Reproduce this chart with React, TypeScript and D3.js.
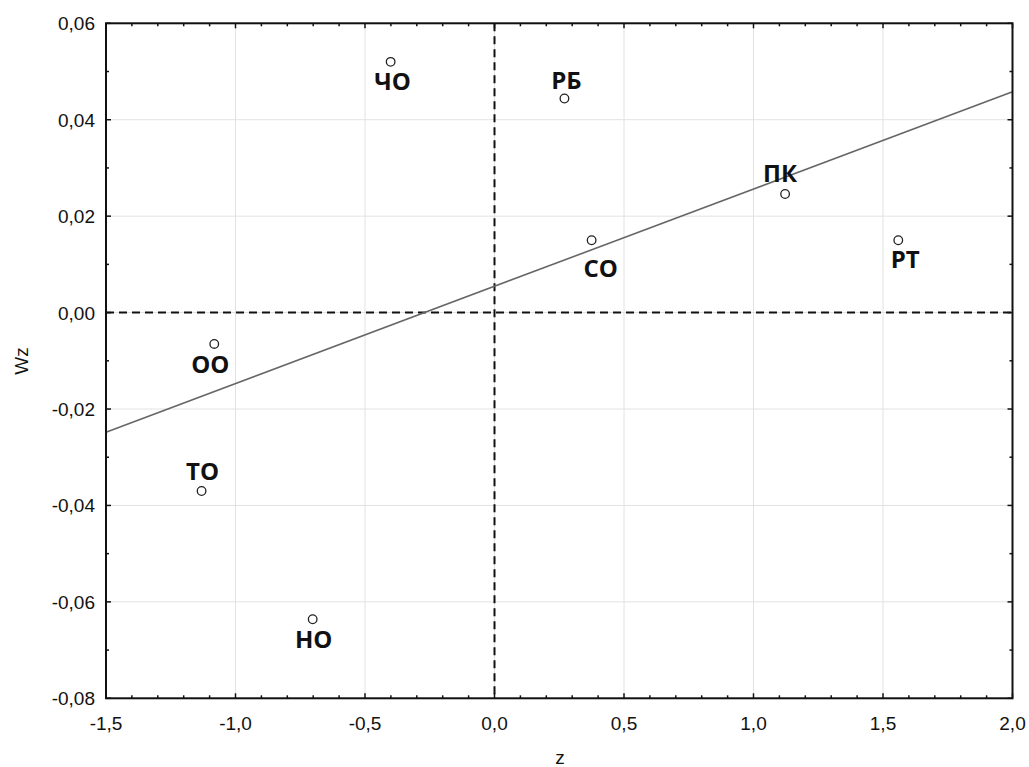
import React from "react";
import * as d3 from "d3";

const labels = ["ЧО", "РБ", "ПК", "СО", "РТ", "ОО", "ТО", "НО"];
const zValues = [-0.401, 0.27, 1.122, 0.375, 1.559, -1.082, -1.131, -0.702];
const wzValues = [0.052, 0.0444, 0.0246, 0.015, 0.015, -0.0065, -0.037, -0.0636];
const xTicks = [-1.5, -1.0, -0.5, 0.0, 0.5, 1.0, 1.5, 2.0];
const yTicks = [-0.08, -0.06, -0.04, -0.02, 0.0, 0.02, 0.04, 0.06];
const fitLineZ = [-1.5, 2.0];
const fitLineWz = [-0.0248, 0.0458];

// label placement (layout only): [dx, baseline dy]
const labelOffsets: [number, number][] = [
  [2, 28], [2, -10], [-5, -12], [9, 37], [7, 28], [-4, 29], [1, -11], [1, 29],
];

const W = 1029, H = 767;
const L = 106, R = 1012.5, T = 23.3, B = 698.3;

export default function App() {
  const x = d3.scaleLinear().domain([-1.5, 2.0]).range([L, R]);
  const y = d3.scaleLinear().domain([-0.08, 0.06]).range([B, T]);
  const fmtX = (v: number) => d3.format(".1f")(v).replace(".", ",").replace("−", "-");
  const fmtY = (v: number) => d3.format(".2f")(v).replace(".", ",").replace("−", "-");
  const xMinor = d3.range(-1.5, 2.0001, 0.1);
  const yMinor = d3.range(-0.08, 0.06001, 0.01);
  const line = d3.line<number>().x((_, i) => x(fitLineZ[i])).y((d) => y(d));

  return (
    <svg width={W} height={H} style={{ position: "absolute", left: 0, top: 0, background: "#fff" }}>
      <rect x={0} y={0} width={W} height={H} fill="#fff" />
      {/* grid */}
      {xTicks.map((t) => (
        <line key={"gx" + t} x1={x(t)} x2={x(t)} y1={T} y2={B} stroke="#e2e2e2" strokeWidth={1} />
      ))}
      {yTicks.map((t) => (
        <line key={"gy" + t} x1={L} x2={R} y1={y(t)} y2={y(t)} stroke="#e2e2e2" strokeWidth={1} />
      ))}
      {/* dashed zero lines */}
      <line x1={x(0)} x2={x(0)} y1={T} y2={B} stroke="#111" strokeWidth={2} strokeDasharray="8,5" />
      <line x1={L} x2={R} y1={y(0)} y2={y(0)} stroke="#111" strokeWidth={2} strokeDasharray="8,5" />
      {/* fit line */}
      <path d={line(fitLineWz) || ""} stroke="#666" strokeWidth={1.6} fill="none" />
      {/* minor & major ticks, inward on all sides */}
      {xMinor.map((t, i) => {
        const major = i % 5 === 0;
        const len = major ? 5 : 3;
        return (
          <g key={"tx" + i}>
            <line x1={x(t)} x2={x(t)} y1={B} y2={B - len} stroke="#111" strokeWidth={1.5} />
            <line x1={x(t)} x2={x(t)} y1={T} y2={T + len} stroke="#111" strokeWidth={1.5} />
          </g>
        );
      })}
      {yMinor.map((t, i) => {
        const major = i % 2 === 0;
        const len = major ? 5 : 3;
        return (
          <g key={"ty" + i}>
            <line x1={L} x2={L + len} y1={y(t)} y2={y(t)} stroke="#111" strokeWidth={1.5} />
            <line x1={R} x2={R - len} y1={y(t)} y2={y(t)} stroke="#111" strokeWidth={1.5} />
          </g>
        );
      })}
      {/* frame */}
      <rect x={L} y={T} width={R - L} height={B - T} fill="none" stroke="#111" strokeWidth={2} />
      {/* tick labels */}
      {xTicks.map((t) => (
        <text key={"lx" + t} x={x(t)} y={730} textAnchor="middle" fontFamily="Liberation Sans, Arial, sans-serif" fontSize={19} fill="#111">
          {fmtX(t)}
        </text>
      ))}
      {yTicks.map((t) => (
        <text key={"ly" + t} x={95} y={y(t) + 7} textAnchor="end" fontFamily="Liberation Sans, Arial, sans-serif" fontSize={19} fill="#111">
          {fmtY(t)}
        </text>
      ))}
      {/* axis titles */}
      <text x={560} y={764} textAnchor="middle" fontFamily="Liberation Sans, Arial, sans-serif" fontSize={19} fill="#111">z</text>
      <text transform="translate(28,361) rotate(-90)" textAnchor="middle" fontFamily="Liberation Sans, Arial, sans-serif" fontSize={19} fill="#111">Wz</text>
      {/* points */}
      {zValues.map((z, i) => (
        <circle key={"p" + i} cx={x(z)} cy={y(wzValues[i])} r={4.3} fill="#fff" stroke="#222" strokeWidth={1.3} />
      ))}
      {labels.map((lab, i) => (
        <text key={"t" + i} x={x(zValues[i]) + labelOffsets[i][0]} y={y(wzValues[i]) + labelOffsets[i][1]}
          textAnchor="middle" fontFamily="Open Sans, sans-serif" fontWeight="bold" fontSize={24} fill="#111">
          {lab}
        </text>
      ))}
    </svg>
  );
}
